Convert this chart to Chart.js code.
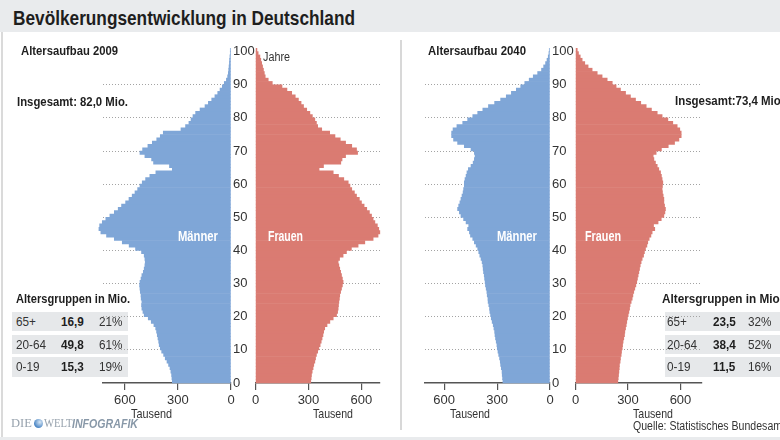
<!DOCTYPE html>
<html lang="de">
<head>
<meta charset="utf-8">
<script src="https://cdn.jsdelivr.net/npm/chart.js@4.4.1/dist/chart.umd.min.js"></script>
<style>
  html, body { margin: 0; padding: 0; }
  body { width: 780px; height: 440px; overflow: hidden; background: #fff; position: relative;
         font-family: 'Liberation Sans', Arial, sans-serif; color: #1e1e1e; }
  .abs { position: absolute; white-space: nowrap; }
  .band { background: #e9ebed; }
  canvas { position: absolute; z-index: 2; }
  .t { position: absolute; white-space: nowrap; line-height: 1; z-index: 3; transform-origin: 0 50%; }
  .b { font-weight: bold; }
  .sex { color: #fff; font-weight: bold; font-size: 14px; }
  .row { position: absolute; background: #e6e8ea; z-index: 1; }
  .cell { position: absolute; white-space: nowrap; line-height: 1; font-size: 13.5px; color: #333;
          z-index: 3; transform: scaleX(0.87); transform-origin: 0 50%; }
</style>
</head>
<body>
<div class="abs band" style="left:0;top:0;width:780px;height:32px"></div>
<div class="abs" style="left:1px;top:32px;width:2px;height:405px;background:#dadada"></div>
<div class="abs" style="left:400px;top:40px;width:2px;height:390px;background:#d8d8d8"></div>
<div class="abs band" style="left:0;top:437px;width:780px;height:3px"></div>

<div class="t b fit" data-w="342" style="left:13px;top:7px;font-size:21px">Bevölkerungsentwicklung in Deutschland</div>

<div class="t b fit" data-w="97" style="left:21px;top:44px;font-size:13.5px">Altersaufbau 2009</div>
<div class="t b fit" data-w="111" style="left:17px;top:95px;font-size:13.5px">Insgesamt: 82,0 Mio.</div>
<div class="t fit" data-w="27" style="left:263px;top:51px;font-size:12.5px;color:#333">Jahre</div>
<div class="t b fit" data-w="98" style="left:428px;top:44px;font-size:13.5px">Altersaufbau 2040</div>
<div class="t b fit" data-w="109" style="left:675px;top:94px;font-size:13.5px">Insgesamt:73,4 Mio.</div>

<div class="t sex fit" data-w="40" style="left:178px;top:229px">Männer</div>
<div class="t sex fit" data-w="35" style="left:268px;top:229px">Frauen</div>
<div class="t sex fit" data-w="40" style="left:497px;top:229px">Männer</div>
<div class="t sex fit" data-w="36" style="left:585px;top:229px">Frauen</div>

<div class="t b fit" data-w="114" style="left:16px;top:292px;font-size:13.5px">Altersgruppen in Mio.</div>
<div class="t b fit" data-w="121" style="left:662px;top:292px;font-size:13.5px">Altersgruppen in Mio.</div>
<div id="tables"></div>

<div class="t fit" data-w="41" style="left:131px;top:407px;font-size:13px;color:#333">Tausend</div>
<div class="t fit" data-w="40" style="left:313px;top:407px;font-size:13px;color:#333">Tausend</div>
<div class="t fit" data-w="40" style="left:450px;top:407px;font-size:13px;color:#333">Tausend</div>
<div class="t fit" data-w="40" style="left:633px;top:407px;font-size:13px;color:#333">Tausend</div>
<div class="t fit" data-w="152" style="left:633px;top:420px;font-size:12px;color:#333">Quelle: Statistisches Bundesamt</div>

<div class="t" style="left:11px;top:417px;font-size:12px;display:flex;align-items:center">
  <span style="font-family:'Liberation Serif',serif;color:#97a2ad;font-size:12.5px">DIE</span>
  <span style="display:inline-block;width:9px;height:9px;border-radius:50%;margin:0 1px 0 2px;background:radial-gradient(circle at 65% 35%, #d8e8f6, #4c86c4 70%)"></span>
  <span style="font-family:'Liberation Serif',serif;color:#97a2ad;font-size:12.5px;display:inline-block;transform:scaleX(0.85);transform-origin:0 50%;width:28px">WELT</span>
  <span class="fit" data-w="66" style="display:inline-block;transform-origin:0 50%;font-weight:bold;font-style:italic;color:#8898a8;font-size:13px">INFOGRAFIK</span>
</div>

<canvas id="m09" width="160" height="378" style="left:96px;top:35px"></canvas>
<canvas id="w09" width="134" height="378" style="left:251px;top:35px"></canvas>
<canvas id="m40" width="158" height="378" style="left:418px;top:35px"></canvas>
<canvas id="w40" width="136" height="378" style="left:571px;top:35px"></canvas>

<script>
// ---- data ----
const ages = Array.from({length: 101}, (_, i) => i);          // 0 .. 100 Jahre
const ageTicks = [0, 10, 20, 30, 40, 50, 60, 70, 80, 90, 100];
const xTicks = [0, 300, 600];                                   // Tausend

const men2009 = [
  332,334,336,340,345,353,362,372,381,392,
  400,406,409,413,417,421,426,436,451,468,
  491,498,504,506,504,508,509,513,515,517,
  515,509,504,496,491,487,485,487,491,506,
  540,576,615,660,704,736,747,743,728,708,
  685,660,638,619,596,577,559,543,528,515,
  502,483,459,425,332,348,438,449,487,515,
  500,470,445,420,400,383,283,257,238,226,
  215,200,175,147,128,109,91,75,62,49,
  38,26,19,15,13,11,9,8,6,4,
  4];
const women2009 = [
  313,315,317,321,326,330,336,340,345,352,
  359,366,372,377,382,386,392,405,421,440,
  459,465,468,470,472,475,477,482,487,492,
  496,492,487,482,477,472,468,476,496,515,
  543,581,619,666,694,704,698,690,676,666,
  657,645,630,615,600,588,572,560,545,535,
  525,500,470,440,360,385,483,490,510,578,
  572,545,510,480,450,420,375,352,345,336,
  322,308,290,272,258,243,225,205,178,150,
  95,72,55,50,45,40,35,30,25,15,
  8];
const men2040 = [
  267,269,271,272,276,280,282,286,291,295,
  299,301,305,309,312,314,318,322,328,333,
  337,341,343,347,351,352,356,358,362,366,
  368,371,373,377,379,381,385,391,398,404,
  410,419,429,438,451,457,467,461,476,490,
  505,514,524,518,511,505,499,493,490,486,
  486,482,476,471,463,448,436,429,425,429,
  448,486,524,547,558,558,550,528,495,467,
  438,410,381,349,314,280,248,219,191,166,
  143,118,95,70,48,36,25,17,10,6,
  4];
const women2040 = [
  242,244,246,248,250,251,255,257,261,263,
  267,269,272,276,280,282,286,290,293,297,
  301,305,309,312,318,324,328,333,339,345,
  350,354,358,362,366,370,375,381,389,394,
  400,408,413,421,431,438,453,446,472,490,
  505,511,514,509,505,505,501,497,495,497,
  499,495,491,486,476,467,457,448,444,461,
  491,530,566,591,604,604,596,581,556,528,
  495,467,434,404,373,343,314,286,257,232,
  210,181,152,124,95,72,53,38,27,17,
  10];

const groups  = ['65+', '20-64', '0-19'];
const mio2009 = ['16,9', '49,8', '15,3'];
const pct2009 = ['21%', '61%', '19%'];
const mio2040 = ['23,5', '38,4', '11,5'];
const pct2040 = ['32%', '52%', '16%'];

// ---- tables (text) ----
(function () {
  const host = document.getElementById('tables');
  const rowTops = [312, 335, 357];
  const rowH = [19, 19, 20];
  function table(x0, w, cols, mio, pct) {
    groups.forEach((g, i) => {
      const r = document.createElement('div');
      r.className = 'row';
      r.style.cssText = `left:${x0}px;top:${rowTops[i]}px;width:${w}px;height:${rowH[i]}px`;
      host.appendChild(r);
      const cy = rowTops[i] + rowH[i] / 2;
      [[g, cols[0], false], [mio[i], cols[1], true], [pct[i], cols[2], false]].forEach(([txt, x, bold]) => {
        const c = document.createElement('div');
        c.className = 'cell';
        c.textContent = txt;
        c.style.left = x + 'px';
        c.style.top = (cy - 6.75) + 'px';
        if (bold) { c.style.fontWeight = 'bold'; c.style.color = '#1e1e1e'; }
        host.appendChild(c);
      });
    });
  }
  table(12, 116, [16, 61, 99], mio2009, pct2009);
  table(665, 130, [667, 713, 748], mio2040, pct2040);
})();

// condensed look: squeeze text horizontally to the reference widths
document.querySelectorAll('.fit').forEach(el => {
  const w = el.getBoundingClientRect().width;
  const target = parseFloat(el.dataset.w);
  if (w > 0) el.style.transform = `scaleX(${(target / w).toFixed(4)})`;
});

// ---- charts ----
const FONT = "'Liberation Sans', Arial, sans-serif";
const BLUE = '#7fa6d7';
const RED = '#da7b72';

function halfPyramid(id, values, color, isMen, xMax, yAxisWidth) {
  const data = values.map((v, i) => ({x: v, y: ages[i] + 0.5}));
  return new Chart(document.getElementById(id), {
    type: 'bar',
    data: { datasets: [{ data, backgroundColor: color, borderWidth: 0,
                         barPercentage: 1, categoryPercentage: 1, clip: false }] },
    options: {
      indexAxis: 'y', responsive: false, animation: false, events: [],
      layout: { autoPadding: false,
                padding: isMen ? {left: 7, top: 10, right: 0, bottom: 0}
                               : {left: 0, top: 10, right: 5, bottom: 0} },
      plugins: { legend: {display: false}, tooltip: {enabled: false} },
      scales: {
        x: {
          type: 'linear', position: 'bottom', reverse: isMen, min: 0, max: xMax,
          afterBuildTicks: s => { s.ticks = xTicks.map(v => ({value: v})); },
          ticks: { font: {family: FONT, size: 13}, color: '#333', padding: 3, maxRotation: 0, autoSkip: false },
          grid: { drawOnChartArea: false, drawTicks: true, tickLength: 7, color: '#555', lineWidth: 1.2 },
          border: { display: true, color: '#555', width: 1.5 },
          afterFit: s => { s.height = 30; s.paddingLeft = 0; s.paddingRight = 0; }
        },
        y: {
          type: 'linear', position: isMen ? 'right' : 'left', min: 0, max: 102, offset: false,
          afterBuildTicks: s => { s.ticks = ageTicks.map(v => ({value: v})); },
          ticks: { display: isMen, font: {family: FONT, size: 13}, color: '#333', padding: 2,
                   autoSkip: false, crossAlign: 'near' },
          grid: { offset: false, drawTicks: false, lineWidth: 1,
                  color: ctx => (ctx.tick && ctx.tick.value > 0 && ctx.tick.value < 100) ? '#a3a3a3' : 'rgba(0,0,0,0)' },
          border: { display: false, dash: [1, 2] },
          afterFit: s => { s.width = yAxisWidth; s.paddingTop = 0; s.paddingBottom = 0; }
        }
      }
    }
  });
}

halfPyramid('m09', men2009, BLUE, true, 724, 25);
halfPyramid('w09', women2009, RED, false, 705, 4.5);
halfPyramid('m40', men2040, BLUE, true, 709, 26);
halfPyramid('w40', women2040, RED, false, 723, 4.5);
</script>
</body>
</html>
